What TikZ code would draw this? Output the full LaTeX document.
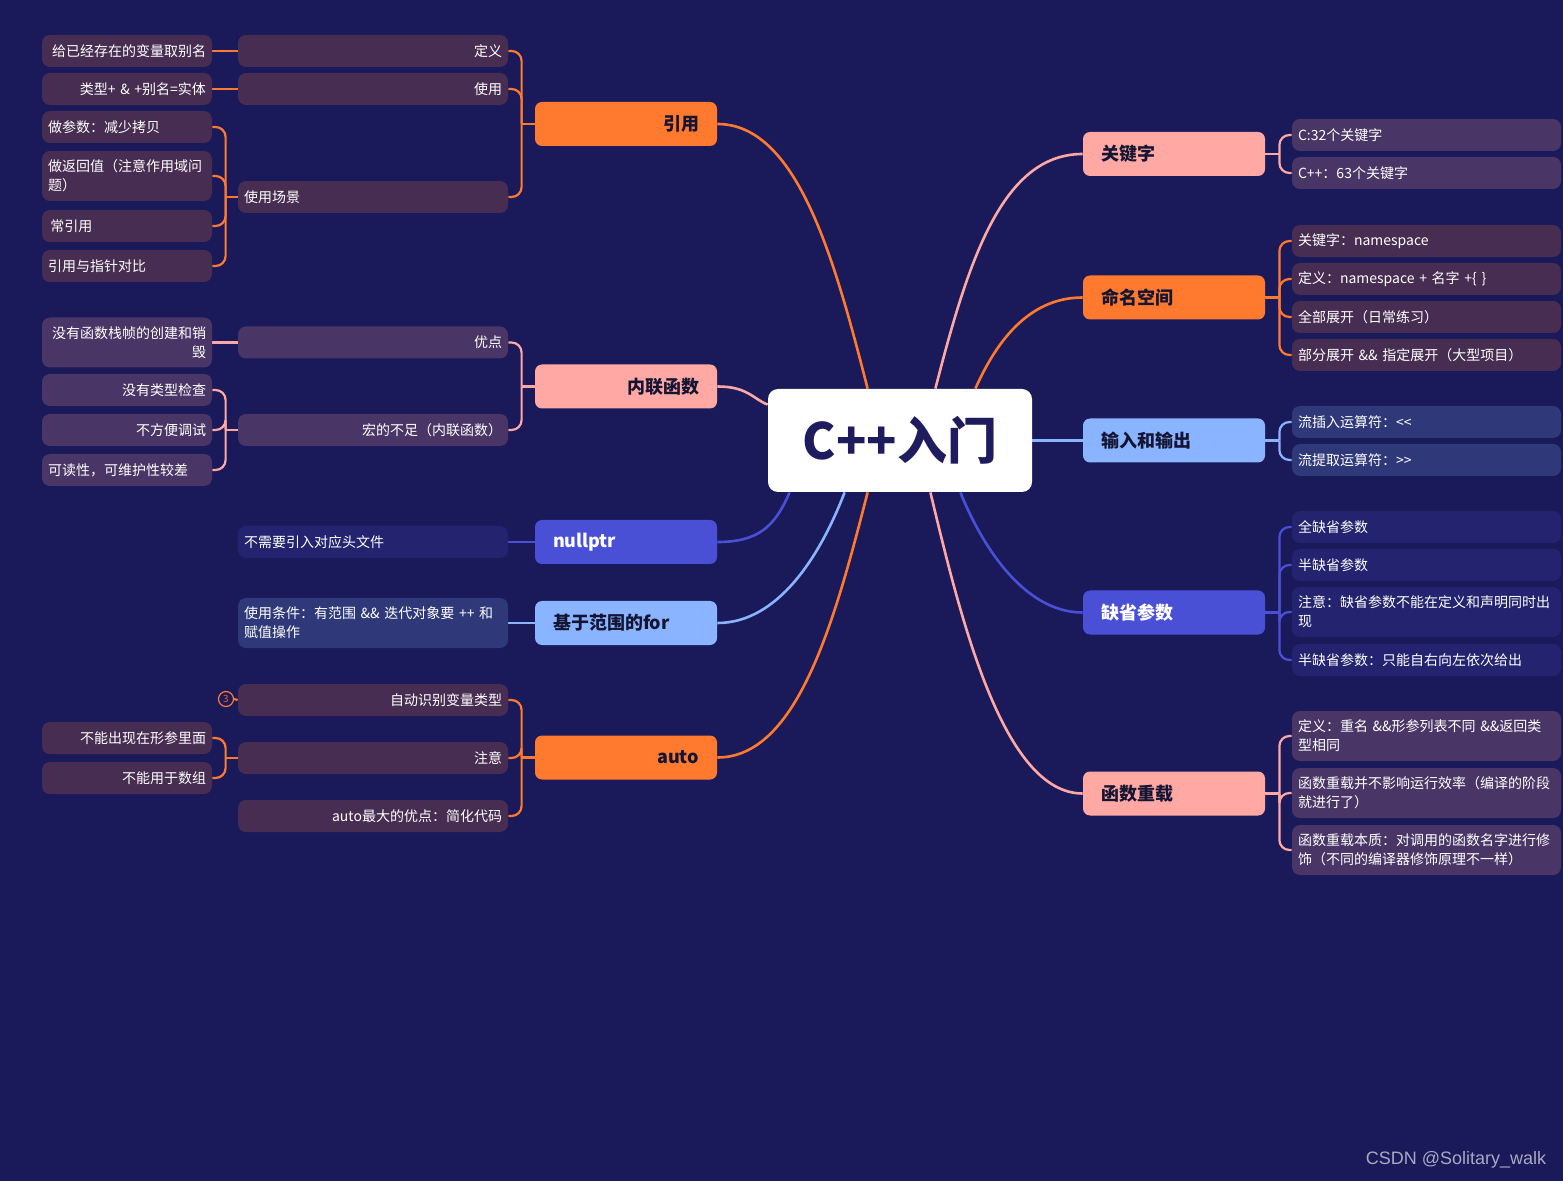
\documentclass[tikz,border=0pt]{standalone}
\usepackage{fontspec}
\setmainfont{Noto Sans CJK SC}
\newfontfamily\wmfont{Liberation Sans}
\definecolor{bgc}{HTML}{1A1959}
\definecolor{rootc}{HTML}{1E1B5E}
\definecolor{dark}{HTML}{141433}
\definecolor{org}{HTML}{FF7A2F}
\definecolor{pnk}{HTML}{FFA8A4}
\definecolor{lbl}{HTML}{8AB4FF}
\definecolor{pur}{HTML}{4A50D6}
\definecolor{osub}{HTML}{482D52}
\definecolor{psub}{HTML}{4A3666}
\definecolor{lsub}{HTML}{2F397A}
\definecolor{usub}{HTML}{24236F}
\definecolor{wmc}{HTML}{A9A9C4}
\pgfdeclarelayer{bg}
\pgfsetlayers{bg,main}
\begin{document}
\begin{tikzpicture}[x=0.5pt, y=-0.5pt,
    root node/.style={fill=white, text=rootc, rounded corners=5pt, minimum width=132pt, minimum height=51.5pt, font=\fontsize{25}{25}\selectfont\bfseries},
    main node/.style={rounded corners=3.5pt, minimum height=22pt, inner xsep=9pt, text width=73pt, font=\fontsize{9}{11}\selectfont\bfseries},
    sub node/.style={rounded corners=4pt, minimum height=16pt, inner xsep=3pt, inner ysep=1pt, text=white, font=\fontsize{7}{9.5}\selectfont},
    mid/.style={sub node, text width=129pt},
    leaf/.style={sub node, text width=79pt},
    side/.style={sub node, text width=128.5pt, align=left},
    two/.style={minimum height=25pt},
    cn/.style={line width=1.3pt},
    br/.style={line width=1.1pt, rounded corners=5pt}]

  \node[root node] (root) at (900,440.5) {C++入门};

  % left side
  \node[main node, fill=org, text=dark, align=right] (yy) at (626,124) {引用};
  \node[main node, fill=pnk, text=dark, align=right] (nl) at (626,386.5) {内联函数};
  \node[main node, fill=pur, text=white, align=left] (np) at (626,542) {nullptr};
  \node[main node, fill=lbl, text=dark, align=left] (fr) at (626,623) {基于范围的for};
  \node[main node, fill=org, text=dark, align=right] (au) at (626,757.5) {auto};

  \node[mid, fill=osub, align=right] (dy) at (373,51) {定义};
  \node[mid, fill=osub, align=right] (sy) at (373,89) {使用};
  \node[mid, fill=osub, align=left] (cj) at (373,197) {使用场景};
  \node[mid, fill=psub, align=right] (yd) at (373,342.5) {优点};
  \node[mid, fill=psub, align=right] (hb) at (373,430) {宏的不足（内联函数）};
  \node[mid, fill=usub, align=left] (bx) at (373,542) {不需要引入对应头文件};
  \node[mid, two, fill=lsub, align=left] (tj) at (373,623) {使用条件：有范围 \&\& 迭代对象要 ++ 和\\赋值操作};
  \node[mid, fill=osub, align=right] (zd) at (373,700) {自动识别变量类型};
  \node[mid, fill=osub, align=right] (zy) at (373,758) {注意};
  \node[mid, fill=osub, align=right] (yd2) at (373,816) {auto最大的优点：简化代码};

  \node[leaf, fill=osub, align=right] (bm) at (127,51) {给已经存在的变量取别名};
  \node[leaf, fill=osub, align=right] (st) at (127,89) {类型+ \& +别名=实体};
  \node[leaf, fill=osub, align=left] (cs1) at (127,127) {做参数：减少拷贝};
  \node[leaf, two, fill=osub, align=left] (cs2) at (127,176) {做返回值（注意作用域问\\题）};
  \node[leaf, fill=osub, align=left] (cs3) at (127,226) {\,常引用};
  \node[leaf, fill=osub, align=left] (cs4) at (127,266) {引用与指针对比};
  \node[leaf, two, fill=psub, align=right] (ms) at (127,342.5) {没有函数栈帧的创建和销\\毁};
  \node[leaf, fill=psub, align=right] (lx) at (127,390) {没有类型检查};
  \node[leaf, fill=psub, align=right] (bf) at (127,430) {不方便调试};
  \node[leaf, fill=psub, align=left] (kd) at (127,470) {可读性，可维护性较差};
  \node[leaf, fill=osub, align=right] (xc) at (127,738) {不能出现在形参里面};
  \node[leaf, fill=osub, align=right] (sz) at (127,778) {不能用于数组};
  \node[circle, draw=org, line width=0.6pt, inner sep=0pt, minimum size=7.5pt, text=org!80!red, font=\fontsize{5}{5}\selectfont] (num) at (226,699) {3};

  % right side
  \node[main node, fill=pnk, text=dark, align=left] (gj) at (1174,154) {关键字};
  \node[main node, fill=org, text=dark, align=left] (mm) at (1174,297.5) {命名空间};
  \node[main node, fill=lbl, text=dark, align=left] (io) at (1174,440.5) {输入和输出};
  \node[main node, fill=pur, text=white, align=left] (qs) at (1174,612.5) {缺省参数};
  \node[main node, fill=pnk, text=dark, align=left] (cz) at (1174,793.5) {函数重载};

  \node[side, fill=psub] (k1) at (1426.5,135) {C:32个关键字};
  \node[side, fill=psub] (k2) at (1426.5,173) {C++：63个关键字};
  \node[side, fill=osub] (m1) at (1426.5,241) {关键字：namespace};
  \node[side, fill=osub] (m2) at (1426.5,279) {定义：namespace + 名字 +\{ \}};
  \node[side, fill=osub] (m3) at (1426.5,317) {全部展开（日常练习）};
  \node[side, fill=osub] (m4) at (1426.5,355) {部分展开 \&\& 指定展开（大型项目）};
  \node[side, fill=lsub] (i1) at (1426.5,422) {流插入运算符：<\kern0pt<};
  \node[side, fill=lsub] (i2) at (1426.5,460) {流提取运算符：>\kern0pt>};
  \node[side, fill=usub] (q1) at (1426.5,527) {全缺省参数};
  \node[side, fill=usub] (q2) at (1426.5,565) {半缺省参数};
  \node[side, two, fill=usub] (q3) at (1426.5,612) {注意：缺省参数不能在定义和声明同时出\\现};
  \node[side, fill=usub] (q4) at (1426.5,660) {半缺省参数：只能自右向左依次给出};
  \node[side, two, fill=psub] (c1) at (1426.5,736) {定义：重名 \&\&形参列表不同 \&\&返回类\\型相同};
  \node[side, two, fill=psub] (c2) at (1426.5,793) {函数重载并不影响运行效率（编译的阶段\\就进行了）};
  \node[side, two, fill=psub] (c3) at (1426.5,850) {函数重载本质：对调用的函数名字进行修\\饰（不同的编译器修饰原理不一样）};

  \node[text=wmc, font=\wmfont\fontsize{9}{9}\selectfont] (wm) at (1456,1160) {CSDN @Solitary\_walk};

  \begin{pgfonlayer}{bg}
    \fill[bgc] (0,0) rectangle (1563,1181);

    % centre to main nodes
    \draw[cn, org] (yy.east) .. controls +(80,0) and +(-33,-129) .. ([xshift=50pt]root.north west);
    \draw[cn, pnk] (nl.east) .. controls +(30,0) and +(-15,-6) .. ([yshift=-8pt]root.north west);
    \draw[cn, pur] (np.east) .. controls +(40,0) and +(-15,35) .. ([xshift=11pt]root.south west);
    \draw[cn, lbl] (fr.east) .. controls +(60,0) and +(-25,65) .. ([xshift=38.5pt]root.south west);
    \draw[cn, org] (au.east) .. controls +(80,0) and +(-33,129) .. ([xshift=50pt]root.south west);
    \draw[cn, pnk] (gj.west) .. controls +(-80,0) and +(33,-129) .. ([xshift=-48.5pt]root.north east);
    \draw[cn, org] (mm.west) .. controls +(-55,0) and +(20,-45) .. ([xshift=-28.5pt]root.north east);
    \draw[cn, lbl] (io.west) -- (root.east);
    \draw[cn, pur] (qs.west) .. controls +(-60,0) and +(20,50) .. ([xshift=-36pt]root.south east);
    \draw[cn, pnk] (cz.west) .. controls +(-80,0) and +(30,125) .. ([xshift=-51pt]root.south east);

    % left branches
    \draw[br, org] (dy.east) -| ([xshift=-6.5pt]yy.west);
    \draw[br, org] (sy.east) -| ([xshift=-6.5pt]yy.west);
    \draw[br, org] (cj.east) -| ([xshift=-6.5pt]yy.west);
    \draw[br, org] ([xshift=-6.5pt]yy.west) -- (yy.west);
    \draw[br, org] (bm.east) -- (dy.west);
    \draw[br, org] (st.east) -- (sy.west);
    \draw[br, org] (cs1.east) -| ([xshift=-6pt]cj.west);
    \draw[br, org] (cs2.east) -| ([xshift=-6pt]cj.west);
    \draw[br, org] (cs3.east) -| ([xshift=-6pt]cj.west);
    \draw[br, org] (cs4.east) -| ([xshift=-6pt]cj.west);
    \draw[br, org] ([xshift=-6pt]cj.west) -- (cj.west);

    \draw[br, pnk] (yd.east) -| ([xshift=-6.5pt]nl.west);
    \draw[br, pnk] (hb.east) -| ([xshift=-6.5pt]nl.west);
    \draw[br, pnk] ([xshift=-6.5pt]nl.west) -- (nl.west);
    \draw[br, pnk] (ms.east) -- (yd.west);
    \draw[br, pnk] (lx.east) -| ([xshift=-6pt]hb.west);
    \draw[br, pnk] (bf.east) -| ([xshift=-6pt]hb.west);
    \draw[br, pnk] (kd.east) -| ([xshift=-6pt]hb.west);
    \draw[br, pnk] ([xshift=-6pt]hb.west) -- (hb.west);

    \draw[br, pur] (bx.east) -- (np.west);
    \draw[br, lbl] (tj.east) -- (fr.west);

    \draw[br, org] (zd.east) -| ([xshift=-6.5pt]au.west);
    \draw[br, org] (zy.east) -| ([xshift=-6.5pt]au.west);
    \draw[br, org] (yd2.east) -| ([xshift=-6.5pt]au.west);
    \draw[br, org] ([xshift=-6.5pt]au.west) -- (au.west);
    \draw[br, org] (xc.east) -| ([xshift=-6pt]zy.west);
    \draw[br, org] (sz.east) -| ([xshift=-6pt]zy.west);
    \draw[br, org] ([xshift=-6pt]zy.west) -- (zy.west);
    \draw[br, org] (num.east) -- (zd.west);

    % right branches
    \draw[br, pnk] (k1.west) -| ([xshift=7pt]gj.east);
    \draw[br, pnk] (k2.west) -| ([xshift=7pt]gj.east);
    \draw[br, pnk] (gj.east) -- ([xshift=7pt]gj.east);
    \draw[br, org] (m1.west) -| ([xshift=7pt]mm.east);
    \draw[br, org] (m2.west) -| ([xshift=7pt]mm.east);
    \draw[br, org] (m3.west) -| ([xshift=7pt]mm.east);
    \draw[br, org] (m4.west) -| ([xshift=7pt]mm.east);
    \draw[br, org] (mm.east) -- ([xshift=7pt]mm.east);
    \draw[br, lbl] (i1.west) -| ([xshift=7pt]io.east);
    \draw[br, lbl] (i2.west) -| ([xshift=7pt]io.east);
    \draw[br, lbl] (io.east) -- ([xshift=7pt]io.east);
    \draw[br, pur] (q1.west) -| ([xshift=7pt]qs.east);
    \draw[br, pur] (q2.west) -| ([xshift=7pt]qs.east);
    \draw[br, pur] (q3.west) -| ([xshift=7pt]qs.east);
    \draw[br, pur] (q4.west) -| ([xshift=7pt]qs.east);
    \draw[br, pur] (qs.east) -- ([xshift=7pt]qs.east);
    \draw[br, pnk] (c1.west) -| ([xshift=7pt]cz.east);
    \draw[br, pnk] (c2.west) -| ([xshift=7pt]cz.east);
    \draw[br, pnk] (c3.west) -| ([xshift=7pt]cz.east);
    \draw[br, pnk] (cz.east) -- ([xshift=7pt]cz.east);
  \end{pgfonlayer}

\end{tikzpicture}
\end{document}
